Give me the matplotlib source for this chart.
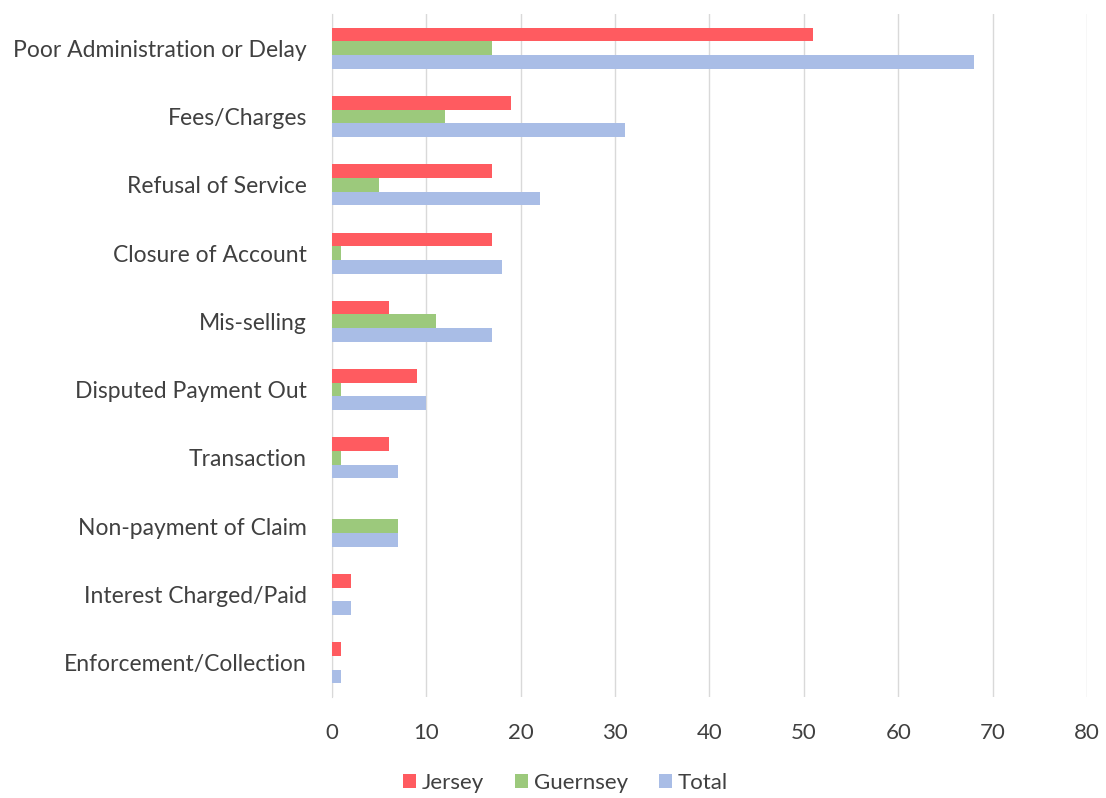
import numpy as np
import matplotlib.pyplot as plt

plt.rcParams['font.family'] = ['Lato', 'DejaVu Sans']

# complaint categories, top to bottom
categories = ['Poor Administration or Delay', 'Fees/Charges', 'Refusal of Service',
              'Closure of Account', 'Mis-selling', 'Disputed Payment Out',
              'Transaction', 'Non-payment of Claim', 'Interest Charged/Paid',
              'Enforcement/Collection']
jersey = [51, 19, 17, 17, 6, 9, 6, 0, 2, 1]
guernsey = [17, 12, 5, 1, 11, 1, 1, 7, 0, 0]
total = [68, 31, 22, 18, 17, 10, 7, 7, 2, 1]

series = [('Jersey', jersey, '#ff5b60'),
          ('Guernsey', guernsey, '#9cc97c'),
          ('Total', total, '#a9bde6')]

fig = plt.figure(figsize=(11.06, 7.98), dpi=100)
ax = fig.add_axes([0.3002, 0.1266, 0.6826, 0.8559])

y = np.arange(len(categories))
h = 0.2
for i, (name, vals, col) in enumerate(series):
    ax.barh(y + (i - 1) * h, vals, height=h, color=col, label=name, zorder=3)

ax.set_xlim(0, 80)
ax.set_ylim(len(categories) - 0.5, -0.5)
ax.set_xticks(np.arange(0, 81, 10))
ax.set_yticks(y)
ax.set_yticklabels(categories, fontsize=16.5)
ax.grid(axis='x', color='#d9d9d9', linewidth=1, zorder=0)
for s in ['top', 'right', 'bottom']:
    ax.spines[s].set_visible(False)
ax.spines['left'].set_color('#d9d9d9')
ax.tick_params(axis='both', length=0, labelcolor='#404040')
ax.tick_params(axis='x', labelsize=16, pad=19)
ax.tick_params(axis='y', pad=18)

ax.legend(loc='upper center', bbox_to_anchor=(0.309, -0.082), ncol=3, frameon=False,
          fontsize=16, labelcolor='#404040', handlelength=0.6, handleheight=0.6,
          handletextpad=0.25, columnspacing=1.4)

fig.savefig('out.png', dpi=100)
